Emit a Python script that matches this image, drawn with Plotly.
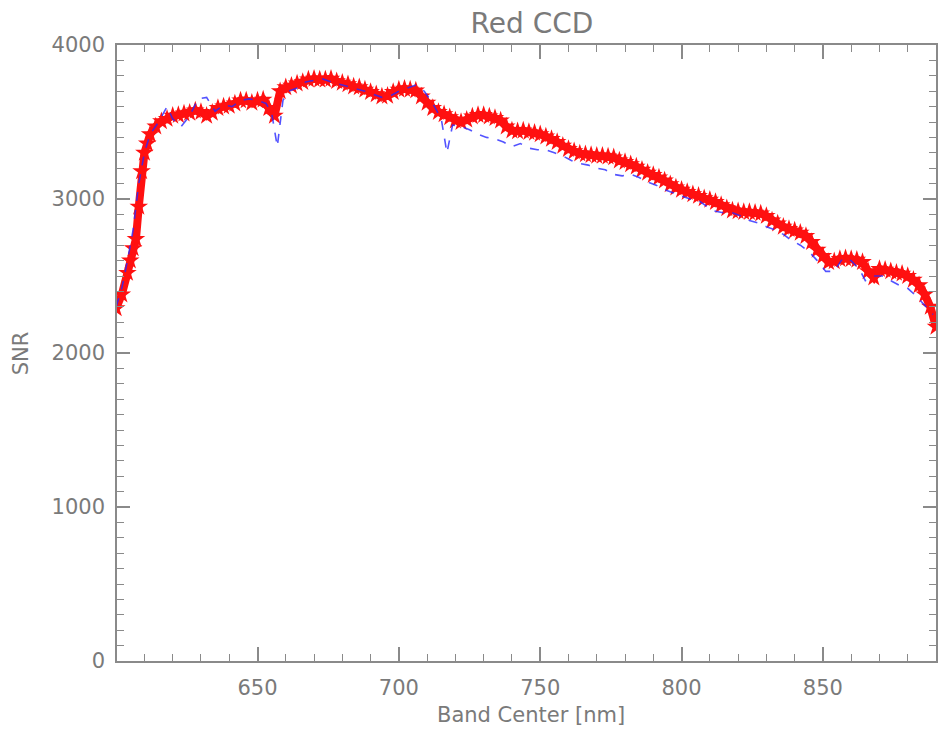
import plotly.graph_objects as go

# Red CCD SNR (star markers, solid)
red_nm = [600, 602, 604, 605, 606, 607, 608, 609, 610, 611, 612, 614, 616, 618, 620, 622, 624, 626, 628, 630,
          632, 634, 636, 638, 640, 642, 644, 646, 648, 650, 652, 654, 656, 658, 660, 662, 664, 666, 668, 670,
          672, 674, 676, 678, 680, 682, 684, 686, 688, 690, 692, 694, 696, 698, 700, 702, 704, 706, 708, 710,
          712, 714, 716, 718, 720, 722, 724, 726, 728, 730, 732, 734, 736, 738, 740, 742, 744, 746, 748, 750,
          752, 754, 756, 758, 760, 762, 764, 766, 768, 770, 772, 774, 776, 778, 780, 782, 784, 786, 788, 790,
          792, 794, 796, 798, 800, 802, 804, 806, 808, 810, 812, 814, 816, 818, 820, 822, 824, 826, 828, 830,
          832, 834, 836, 838, 840, 842, 844, 846, 848, 850, 852, 854, 856, 858, 860, 862, 864, 866, 868, 870,
          872, 874, 876, 878, 880, 882, 884, 886, 888, 890]
red_snr = [2290, 2380, 2520, 2600, 2680, 2740, 2950, 3180, 3300, 3360, 3420, 3470, 3505, 3520, 3540, 3545, 3555, 3560, 3575, 3565,
           3540, 3560, 3590, 3600, 3605, 3620, 3640, 3640, 3625, 3640, 3645, 3590, 3540, 3700, 3725, 3735, 3750, 3760, 3775, 3780,
           3775, 3775, 3780, 3765, 3755, 3745, 3730, 3725, 3710, 3695, 3680, 3665, 3670, 3695, 3710, 3715, 3710, 3705, 3665, 3625,
           3590, 3565, 3550, 3530, 3510, 3500, 3515, 3535, 3545, 3545, 3535, 3525, 3510, 3470, 3445, 3440, 3445, 3435, 3430, 3420,
           3405, 3390, 3370, 3345, 3325, 3310, 3295, 3290, 3285, 3280, 3280, 3275, 3270, 3250, 3240, 3225, 3210, 3190, 3170, 3155,
           3140, 3120, 3095, 3075, 3060, 3045, 3030, 3020, 3005, 2995, 2980, 2960, 2940, 2925, 2920, 2915, 2915, 2910, 2905, 2890,
           2860, 2840, 2820, 2805, 2795, 2780, 2760, 2720, 2670, 2630, 2590, 2595, 2610, 2615, 2610, 2605, 2590, 2530, 2490, 2545,
           2540, 2530, 2520, 2515, 2500, 2475, 2440, 2380, 2300, 2170]

# Comparison SNR (blue dashed)
blue_nm = [600, 602, 604, 606, 608, 610, 612, 615, 618, 620, 623, 626, 629, 632, 635, 638, 641, 644, 647, 650,
           653, 655, 657, 659, 661, 664, 667, 670, 673, 676, 679, 682, 685, 688, 691, 694, 697, 700, 703, 706,
           709, 712, 715, 717, 719, 722, 725, 728, 731, 734, 737, 740, 743, 746, 749, 752, 755, 758, 761, 764,
           767, 770, 773, 776, 779, 782, 785, 788, 791, 794, 797, 800, 803, 806, 809, 812, 815, 818, 821, 824,
           827, 830, 833, 836, 839, 842, 845, 848, 851, 854, 857, 860, 863, 865, 868, 871, 874, 877, 880, 883,
           886, 889]
blue_snr = [2300, 2420, 2600, 2800, 3100, 3300, 3420, 3500, 3600, 3520, 3470, 3540, 3650, 3660, 3570, 3610, 3600, 3640, 3650, 3640,
            3620, 3560, 3340, 3640, 3700, 3720, 3760, 3770, 3780, 3760, 3745, 3730, 3720, 3700, 3680, 3660, 3670, 3700, 3720, 3740,
            3700, 3620, 3520, 3300, 3480, 3470, 3450, 3420, 3400, 3390, 3370, 3340, 3360, 3330, 3320, 3320, 3300, 3280, 3250, 3230,
            3220, 3200, 3190, 3160, 3150, 3160, 3140, 3110, 3090, 3060, 3040, 3020, 3000, 2990, 2950, 2920, 2910, 2910, 2890, 2860,
            2845, 2820, 2800, 2770, 2730, 2700, 2660, 2600, 2530, 2530, 2615, 2600, 2540, 2470, 2500, 2500, 2470, 2440, 2420, 2370,
            2310, 2250]

x_ticks = [650, 700, 750, 800, 850]
y_ticks = [0, 1000, 2000, 3000, 4000]

W, H = 941, 729
L, R, T, B = 117, 3, 45, 68
pw, ph = W - L - R, H - T - B

grey = "#7a7a7a"
font_family = "DejaVu Sans"

fig = go.Figure()
fig.add_trace(go.Scatter(
    x=red_nm, y=red_snr, mode="lines+markers",
    line=dict(color="#ff1010", width=8),
    marker=dict(symbol="star", size=14, color="#ff1010", line=dict(width=0)),
    showlegend=False,
))
fig.add_trace(go.Scatter(
    x=blue_nm, y=blue_snr, mode="lines",
    line=dict(color="rgba(40,40,255,0.8)", width=1.6, dash="dash"),
    showlegend=False,
))

axis_common = dict(
    showline=True, linecolor="#8a8a8a", linewidth=1.5, mirror="allticks",
    ticks="inside", tickcolor="#8a8a8a", tickwidth=1.5,
    showgrid=False, zeroline=False,
    tickfont=dict(family=font_family, size=21, color=grey),
)

fig.update_xaxes(
    range=[600.3, 890], tickmode="array", tickvals=x_ticks, ticklen=14,
    minor=dict(dtick=10, tick0=600, ticks="inside", ticklen=7, tickcolor="#8a8a8a", tickwidth=1.3),
    ticklabelstandoff=7,
    **axis_common,
)
fig.update_yaxes(
    range=[0, 4000], tickmode="array", tickvals=y_ticks, ticklen=13,
    minor=dict(dtick=100, tick0=0, ticks="inside", ticklen=7, tickcolor="#8a8a8a", tickwidth=1.3),
    ticklabelstandoff=6,
    **axis_common,
)

fig.update_layout(
    width=W, height=H,
    margin=dict(l=L, r=R, t=T, b=B),
    paper_bgcolor="white", plot_bgcolor="white",
    title=dict(text="Red CCD", x=532 / W, xref="container", xanchor="center",
               y=1 - 23 / H, yref="container", yanchor="middle",
               font=dict(family=font_family, size=28, color=grey)),
    annotations=[
        dict(text="Band Center [nm]", xref="paper", yref="paper",
             x=(532 - L) / pw, y=-(715 - (T + ph)) / ph, xanchor="center", yanchor="middle",
             showarrow=False, font=dict(family=font_family, size=21, color=grey)),
        dict(text="SNR", xref="paper", yref="paper",
             x=(21 - L) / pw, y=0.5, xanchor="center", yanchor="middle", textangle=-90,
             showarrow=False, font=dict(family=font_family, size=21, color=grey)),
    ],
)

fig.write_html("out.html")
